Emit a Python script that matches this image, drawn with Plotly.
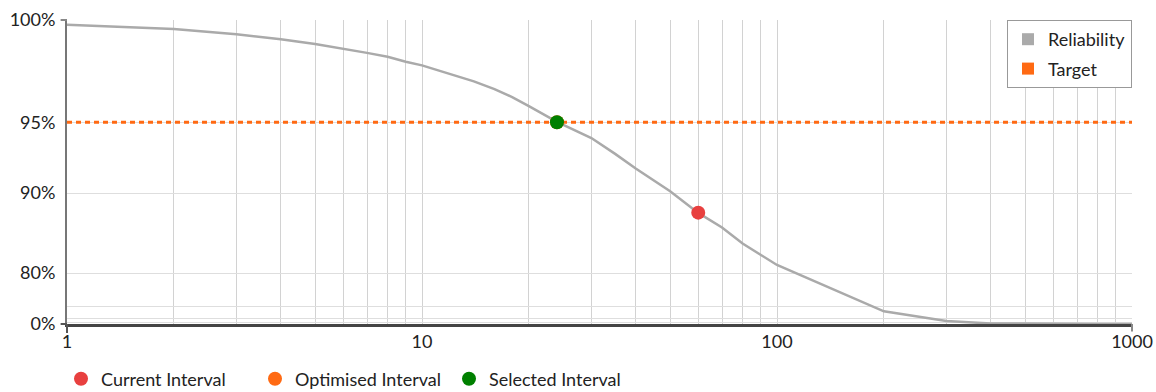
import plotly.graph_objects as go

# ---------------- data ----------------
intervals = [1, 2, 3, 4, 5, 6, 7, 8, 9, 10, 12, 14, 16, 18, 20, 24, 30, 35, 40, 45,
             50, 60, 70, 80, 90, 100, 200, 300, 400, 500, 600, 700, 800, 900, 1000]
reliability = [99.8, 99.62, 99.4, 99.19, 98.98, 98.78, 98.58, 98.4, 98.17, 98.0,
               97.6, 97.22, 96.83, 96.4, 95.92, 95.03, 94.04, 93.0, 91.96, 91.05,
               90.17, 88.18, 86.64, 84.69, 83.04, 81.48, 67.2, 56.0, 45.0, 37.0,
               30.0, 25.0, 20.0, 17.0, 14.0]
target_x = [1, 1000]
target_y = [95, 95]
current_interval = [60]
current_rel = [88.2]
optimised_interval = [24]
optimised_rel = [95.0]
selected_interval = [24]
selected_rel = [95.0]

y_grid_vals = [100, 95, 90, 80, 70, 60, 50, 0]
y_grid_text = ["100%", "95%", "90%", "80%", "", "", "", "0%"]
x_grid_vals = [1, 2, 3, 4, 5, 6, 7, 8, 9, 10, 20, 30, 40, 50, 60, 70, 80, 90,
               100, 200, 300, 400, 500, 600, 700, 800, 900, 1000]
x_label_map = {1: "1", 10: "10", 100: "100", 1000: "1000"}


# the chart's y axis is a power scale (position ~ R^8)
def yscale(p):
    return (p / 100.0) ** 8


FONT = "Lato, 'Open Sans', sans-serif"
FS = 18
GREY = "#aaaaaa"
ORANGE = "#ff6a13"
RED = "#e8403f"
GREEN = "#008000"

W, H = 1156, 392

fig = go.Figure()

fig.add_trace(go.Scatter(x=intervals, y=[yscale(v) for v in reliability], mode="lines",
                         line=dict(color=GREY, width=2.5), showlegend=False,
                         hoverinfo="skip"))
fig.add_trace(go.Scatter(x=target_x, y=[yscale(v) for v in target_y], mode="lines",
                         line=dict(color=ORANGE, width=3, dash="5px,4px"),
                         showlegend=False, hoverinfo="skip"))

# points
fig.add_trace(go.Scatter(x=current_interval, y=[yscale(v) for v in current_rel],
                         mode="markers", name="Current Interval",
                         marker=dict(color=RED, size=14), legend="legend2"))
fig.add_trace(go.Scatter(x=optimised_interval, y=[yscale(v) for v in optimised_rel],
                         mode="markers", name="Optimised Interval",
                         marker=dict(color=ORANGE, size=14), legend="legend2"))
fig.add_trace(go.Scatter(x=selected_interval, y=[yscale(v) for v in selected_rel],
                         mode="markers", name="Selected Interval",
                         marker=dict(color=GREEN, size=14), legend="legend2"))

# top-right legend entries (square symbols)
fig.add_trace(go.Scatter(x=[None], y=[None], mode="markers", name="Reliability",
                         marker=dict(color=GREY, size=12, symbol="square"),
                         legend="legend", legendgroup="rel"))
fig.add_trace(go.Scatter(x=[None], y=[None], mode="markers", name="Target",
                         marker=dict(color=ORANGE, size=12, symbol="square"),
                         legend="legend", legendgroup="tgt"))

# small end ticks like the reference
tick_line = dict(color="#555555", width=2)
fig.add_shape(type="line", xref="x domain", yref="y domain", x0=0, x1=0, y0=0, y1=-0.03, line=tick_line)
fig.add_shape(type="line", xref="x domain", yref="y domain", x0=1, x1=1, y0=0, y1=-0.025, line=dict(color="#888888", width=2))
fig.add_shape(type="line", xref="x domain", yref="y domain", x0=0, x1=-0.006, y0=1, y1=1, line=dict(color="#888888", width=2))
fig.add_shape(type="line", xref="x domain", yref="y domain", x0=0, x1=-0.006, y0=0, y1=0, line=tick_line)

fig.update_layout(
    width=W, height=H,
    margin=dict(l=67, r=24, t=20, b=68, autoexpand=False),
    plot_bgcolor="white", paper_bgcolor="white",
    font=dict(family=FONT, size=FS, color="#333333"),
    legend=dict(x=1, xanchor="right", y=1, yanchor="top", bgcolor="white",
                bordercolor="#999999", borderwidth=1,
                font=dict(family=FONT, size=FS, color="#222222"),
                traceorder="grouped", tracegroupgap=3,
                itemclick=False, itemdoubleclick=False),
    legend2=dict(orientation="h", xref="container", yref="container",
                 x=61 / W, xanchor="left", y=13 / H, yanchor="middle",
                 entrywidth=149, entrywidthmode="pixels",
                 font=dict(family=FONT, size=FS, color="#222222"),
                 itemclick=False, itemdoubleclick=False),
    hovermode=False,
)

fig.update_xaxes(type="log", range=[0, 3], tickmode="array", tickvals=x_grid_vals,
                 ticktext=[x_label_map.get(v, "") for v in x_grid_vals],
                 showgrid=True, gridcolor="#d2d2d2", gridwidth=1,
                 showline=True, linecolor="#444444", linewidth=2.5,
                 ticks="", tickfont=dict(size=FS, color="#222222"),
                 ticklabelstandoff=0, ticklabeloverflow="allow",
                 automargin=False, zeroline=False)
fig.update_yaxes(range=[0, 1], tickmode="array",
                 tickvals=[yscale(v) for v in y_grid_vals], ticktext=y_grid_text,
                 showgrid=True, gridcolor="#dedede", gridwidth=1,
                 showline=True, linecolor="#777777", linewidth=2,
                 ticks="", tickfont=dict(size=FS, color="#222222"),
                 ticklabelstandoff=6, ticklabeloverflow="allow",
                 automargin=False, zeroline=False)

fig.write_html("out.html", config={"displayModeBar": False},
               post_script="document.body.style.margin='0';")
